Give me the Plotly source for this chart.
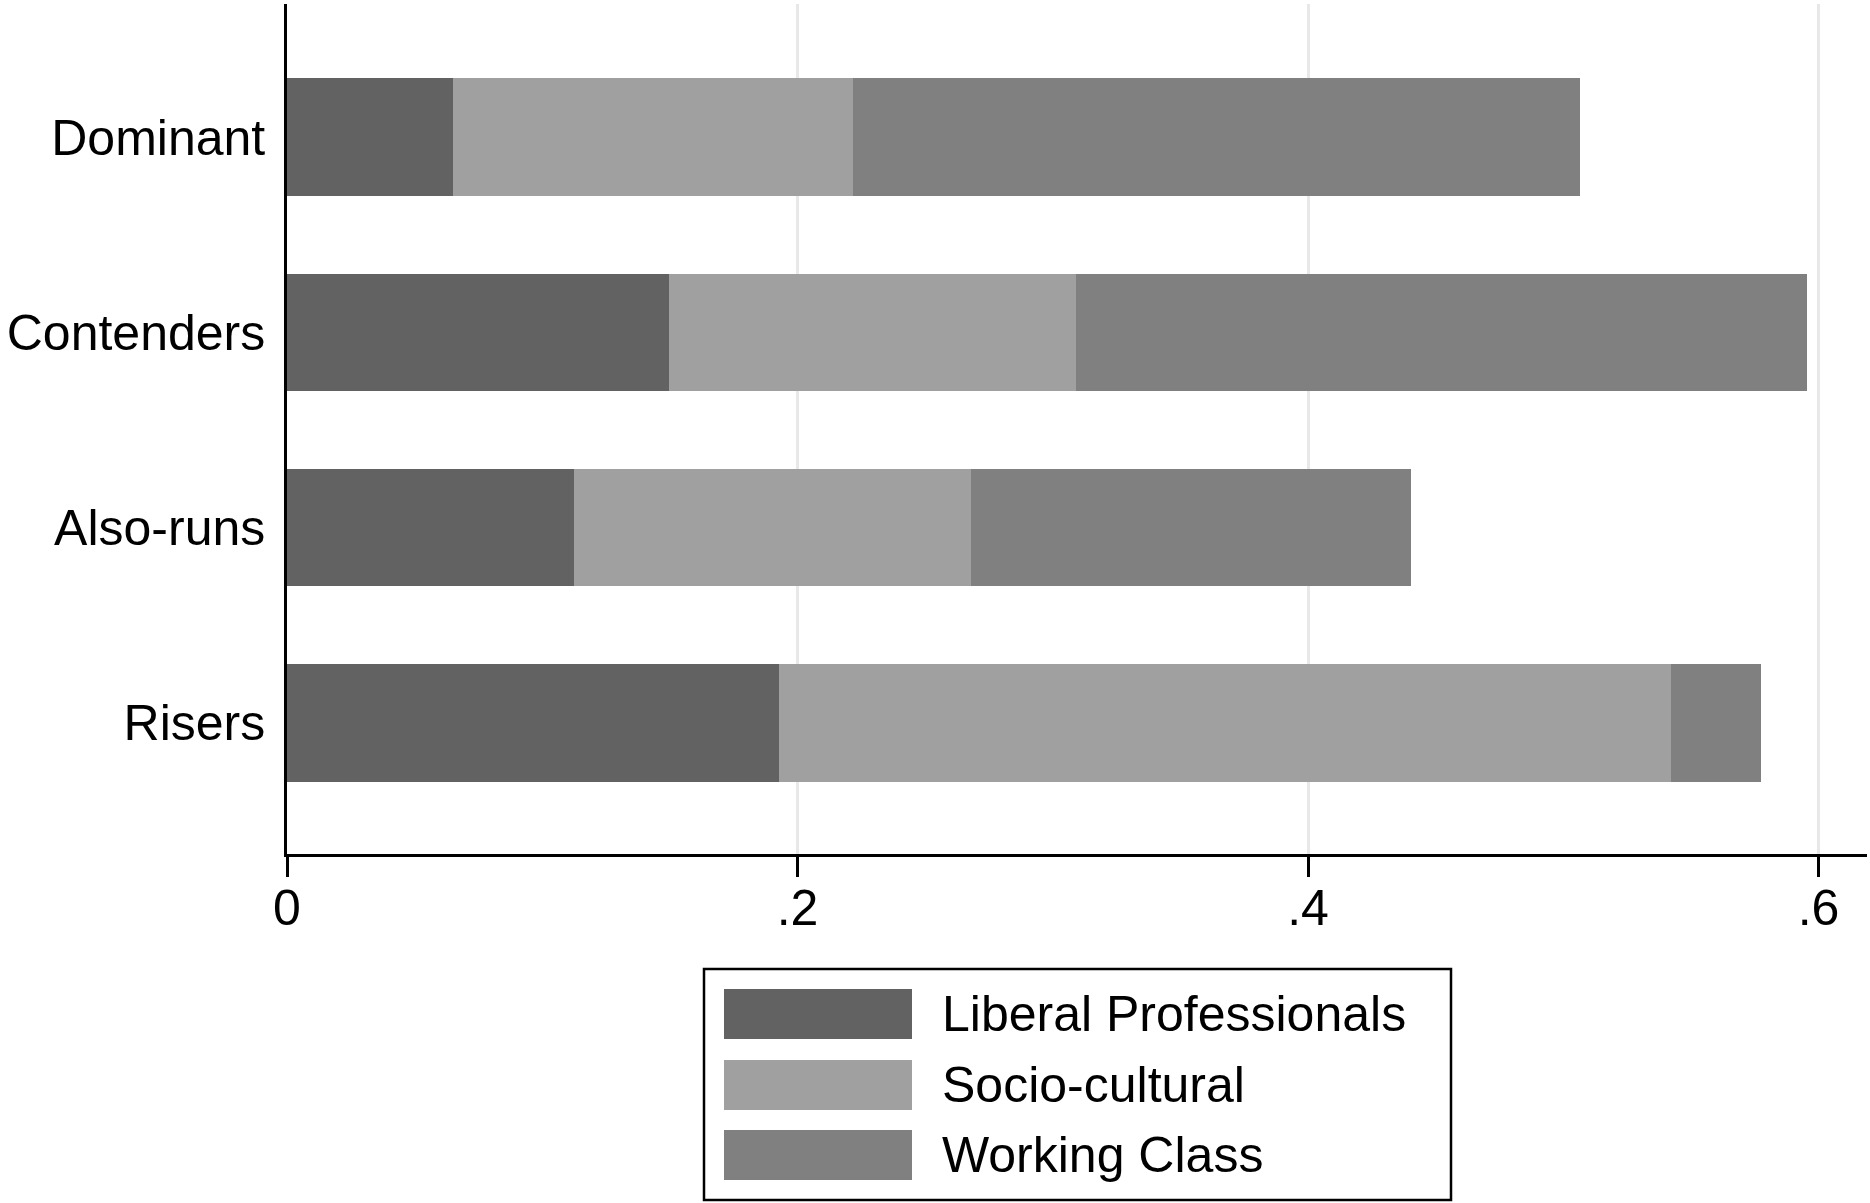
import plotly.graph_objects as go

# ---- data ----
categories = ["Dominant", "Contenders", "Also-runs", "Risers"]
series_names = ["Liberal Professionals", "Socio-cultural", "Working Class"]
liberal_professionals = [0.065, 0.1495, 0.1126, 0.1929]
socio_cultural = [0.1566, 0.1598, 0.1555, 0.3493]
working_class = [0.2851, 0.2862, 0.1723, 0.0352]
x_tick_values = [0, 0.2, 0.4, 0.6]
x_tick_labels = ["0", ".2", ".4", ".6"]

colors = ["#626262", "#a0a0a0", "#808080"]
series_values = [liberal_professionals, socio_cultural, working_class]

W, H = 1870, 1203
ML, MR, MT, MB = 287, 3, 4, 349
PW, PH = W - ML - MR, H - MT - MB
FONT = "Liberation Sans, Arial, Helvetica, sans-serif"
FS = 50

fig = go.Figure()
for name, vals, col in zip(series_names, series_values, colors):
    fig.add_trace(go.Bar(
        y=categories, x=vals, name=name, orientation="h",
        marker=dict(color=col, line=dict(width=0)),
        showlegend=False, hoverinfo="skip",
    ))

px_per_unit = (1818.5 - ML) / 0.6
xmax = PW / px_per_unit

fig.update_layout(
    width=W, height=H,
    margin=dict(l=ML, r=MR, t=MT, b=MB, pad=0),
    barmode="stack", bargap=0.4,
    plot_bgcolor="white", paper_bgcolor="white",
    font=dict(family=FONT, size=FS, color="black"),
    xaxis=dict(
        range=[0, xmax], tickvals=x_tick_values, ticktext=x_tick_labels,
        showgrid=True, gridcolor="#e8e8e8", gridwidth=3, zeroline=False,
        showline=True, linecolor="black", linewidth=2.5,
        ticks="outside", ticklen=20, tickwidth=2.5, tickcolor="black",
        ticklabelstandoff=-12,
        tickfont=dict(family=FONT, size=FS, color="black"),
        fixedrange=True,
    ),
    yaxis=dict(
        type="category", categoryorder="array",
        categoryarray=list(reversed(categories)),
        range=[-0.671, 3.681],
        showgrid=False, zeroline=False,
        showline=True, linecolor="black", linewidth=2.5,
        ticks="", ticklabelstandoff=9,
        tickfont=dict(family=FONT, size=FS, color="black"),
        fixedrange=True,
    ),
)

# ---- custom legend (box, swatches, labels) in paper coordinates ----
def px_x(p):
    return (p - ML) / PW

def px_y(p):
    return (H - MB - p) / PH

fig.add_shape(type="rect", xref="paper", yref="paper",
              x0=px_x(704), x1=px_x(1451), y0=px_y(1200), y1=px_y(969),
              line=dict(color="black", width=2.5), fillcolor="rgba(0,0,0,0)",
              layer="above")
row_tops = [989, 1060, 1130]
for i, (name, col) in enumerate(zip(series_names, colors)):
    top = row_tops[i]
    fig.add_shape(type="rect", xref="paper", yref="paper",
                  x0=px_x(724), x1=px_x(912), y0=px_y(top + 50), y1=px_y(top),
                  line=dict(width=0), fillcolor=col, layer="above")
    fig.add_annotation(xref="paper", yref="paper",
                       x=px_x(940), y=px_y(top + 25),
                       text=name, showarrow=False,
                       xanchor="left", yanchor="middle",
                       font=dict(family=FONT, size=FS, color="black"))

fig.write_html(
    "out.html",
    config={"displayModeBar": False},
    post_script="document.body.style.margin='0';document.body.style.overflow='hidden';",
)
